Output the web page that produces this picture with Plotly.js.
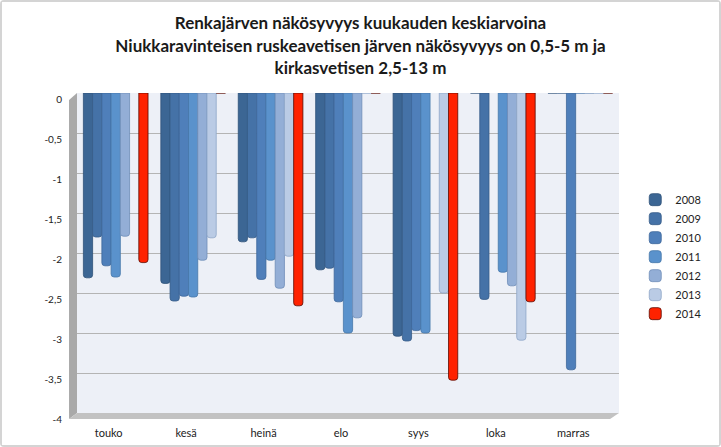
<!DOCTYPE html>
<html>
<head>
<meta charset="utf-8">
<script src="https://cdn.plot.ly/plotly-3.0.1.min.js"></script>
<style>
  body { margin: 0; background: #fff; }
  #chart { width: 717px; height: 443px; border: 2px solid #d4d4d4; border-radius: 4px; }
</style>
</head>
<body>
<div id="chart"></div>
<script>
// kuukaudet (x-akseli)
const months = ["touko", "kesä", "heinä", "elo", "syys", "loka", "marras"];

// näkösyvyys (m), negatiivisena jotta pylväät roikkuvat alaspäin
const y2008 = [-2.31, -2.38, -1.86, -2.21, -3.04, 0, 0];
const y2009 = [-1.80, -2.60, -1.81, -2.19, -3.10, -2.58, 0];
const y2010 = [-2.16, -2.54, -2.33, -2.61, -2.97, null, -3.46];
const y2011 = [-2.30, -2.55, -2.09, -3.00, -3.00, -2.24, 0];
const y2012 = [-1.79, -2.09, -2.44, -2.81, null, -2.41, 0];
const y2013 = [null, -1.81, -2.04, 0, -2.50, -3.09, 0];
const y2014 = [-2.12, 0, -2.66, 0, -3.59, -2.61, 0];

const yTickVals = [0, -0.5, -1, -1.5, -2, -2.5, -3, -3.5, -4];
const yTickText = ["0", "-0,5", "-1", "-1,5", "-2", "-2,5", "-3", "-3,5", "-4"];

const FONT = "Lato, 'Liberation Sans', sans-serif";

const series = [
  { name: "2008", y: y2008, color: "#3c6694", line: "#2f5279" },
  { name: "2009", y: y2009, color: "#4572a7", line: "#365c88" },
  { name: "2010", y: y2010, color: "#4f7fba", line: "#3e679a" },
  { name: "2011", y: y2011, color: "#5a92cc", line: "#4677aa" },
  { name: "2012", y: y2012, color: "#93aed6", line: "#6f8db8" },
  { name: "2013", y: y2013, color: "#bacbe5", line: "#8ea6c8" },
  { name: "2014", y: y2014, color: "#ff2200", line: "#5a0a00" },
];

const traces = series.map((s) => ({
  type: "bar",
  name: s.name,
  x: months,
  y: s.y,
  marker: {
    color: s.color,
    line: { color: s.line, width: 0.8 },
    cornerradius: 3,
  },
  hoverinfo: "x+y+name",
}));

// 3D-vaikutelma: vasen seinä ja lattia
const shapes = [
  {
    type: "path",
    xref: "paper", yref: "paper",
    path: "M -0.0147,0.978 L 0,1 L 0,0 L -0.0147,-0.01875 Z",
    fillcolor: "#a9a9a9",
    line: { width: 0 },
    layer: "below",
  },
  {
    type: "path",
    xref: "paper", yref: "paper",
    path: "M -0.0147,-0.01875 L 0,0 L 1,0 L 0.9835,-0.01875 Z",
    fillcolor: "#c2c2c2",
    line: { width: 0 },
    layer: "below",
  },
];

const layout = {
  width: 717,
  height: 443,
  paper_bgcolor: "#ffffff",
  plot_bgcolor: "#edf0f7",
  font: { family: FONT, color: "#222" },
  title: {
    text: "Renkajärven näkösyvyys kuukauden keskiarvoina<br>Niukkaravinteisen ruskeavetisen järven näkösyvyys on 0,5-5 m ja<br>kirkasvetisen 2,5-13 m",
    font: { family: FONT, size: 17, color: "#1a1a1a", weight: "bold" },
    x: 0.5,
    xref: "container",
    y: 0.938,
    yref: "container",
    yanchor: "top",
  },
  margin: { l: 75, r: 97, t: 91, b: 32 },
  barmode: "group",
  bargap: 0.165,
  bargroupgap: 0,
  xaxis: {
    type: "category",
    showgrid: false,
    zeroline: false,
    showline: false,
    ticks: "",
    tickfont: { family: FONT, size: 11, color: "#222" },
    ticklabelstandoff: 12,
    ticklabelshift: -7,
  },
  yaxis: {
    range: [-4, 0],
    tickvals: yTickVals,
    ticktext: yTickText,
    showgrid: true,
    gridcolor: "#b4b4b4",
    gridwidth: 1,
    zeroline: false,
    showline: false,
    ticks: "",
    tickfont: { family: FONT, size: 10, color: "#222" },
    ticklabelstandoff: 14,
    ticklabelshift: 6,
  },
  legend: {
    x: 1.03,
    xanchor: "left",
    y: 0.712,
    yanchor: "top",
    font: { family: FONT, size: 11, color: "#222" },
    itemwidth: 30,
    bgcolor: "rgba(0,0,0,0)",
  },
  shapes: shapes,
  showlegend: true,
};

Plotly.newPlot("chart", traces, layout, { displayModeBar: false, responsive: false });
</script>
</body>
</html>
